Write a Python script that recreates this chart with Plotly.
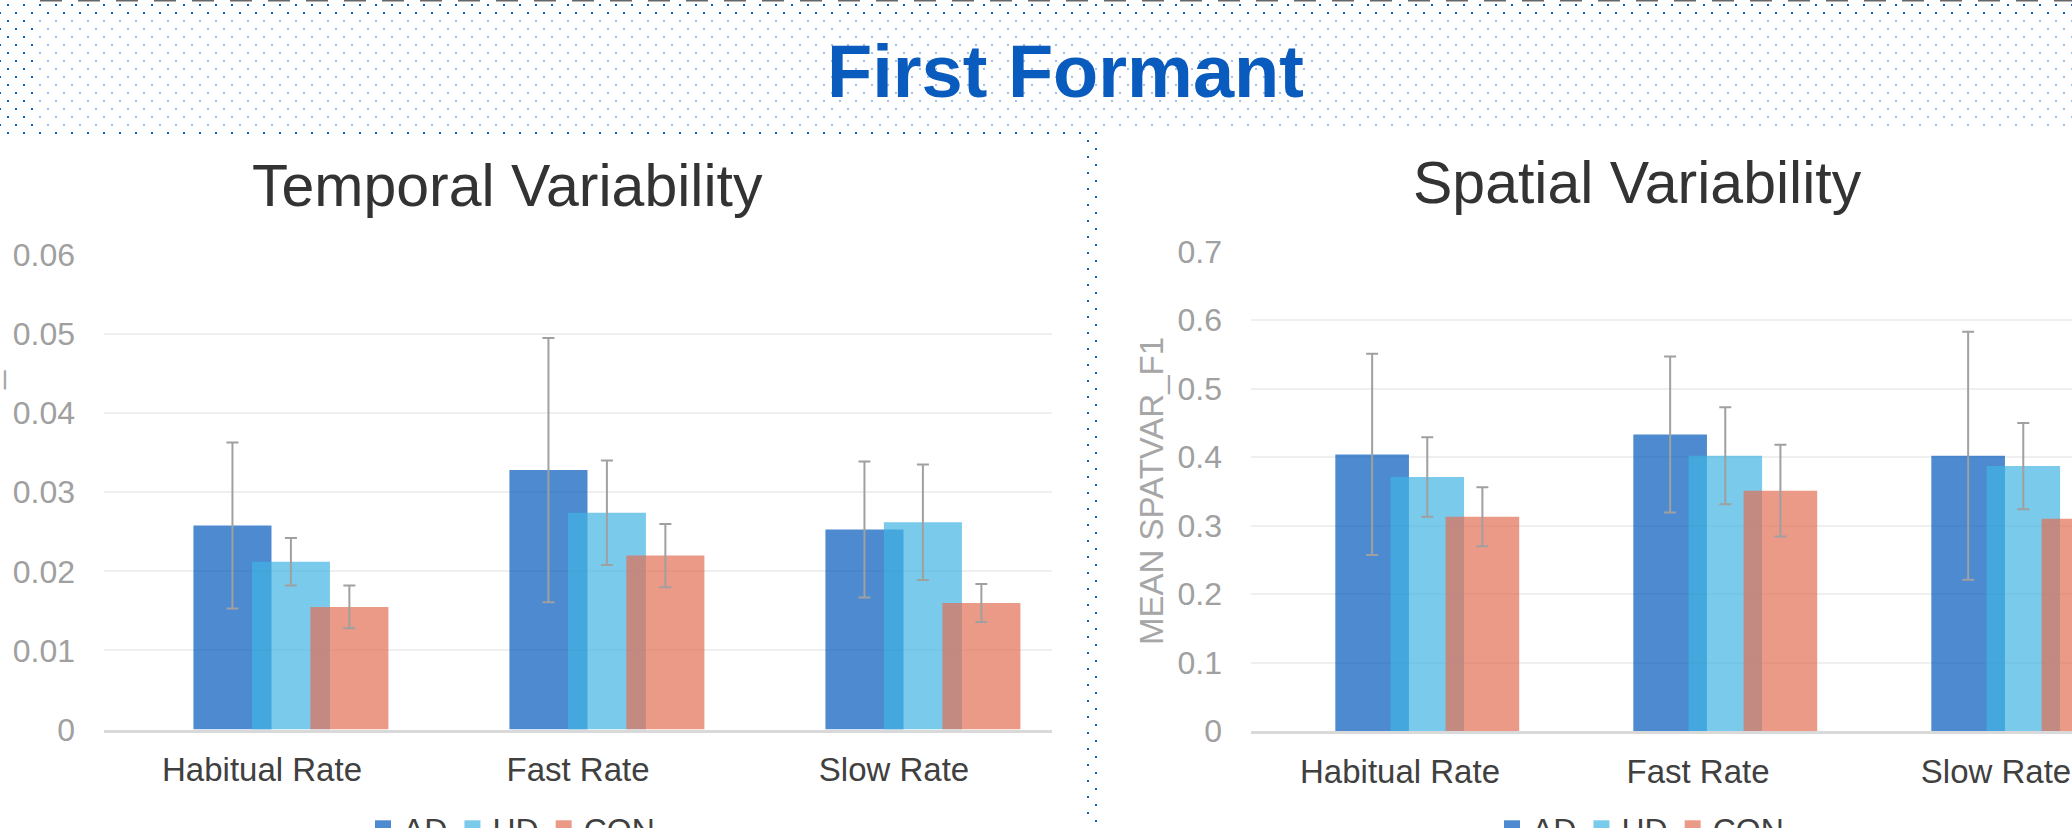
import numpy as np
import plotly.graph_objects as go

W, H = 2072, 828

# ---------------- data ----------------
categories = ["Habitual Rate", "Fast Rate", "Slow Rate"]
groups = ["AD", "HD", "CON"]

temporal_AD = [0.0258, 0.0328, 0.0253]
temporal_AD_err = [0.0105, 0.0167, 0.0086]
temporal_HD = [0.0212, 0.0274, 0.0262]
temporal_HD_err = [0.0030, 0.0066, 0.0073]
temporal_CON = [0.0155, 0.0220, 0.0160]
temporal_CON_err = [0.0027, 0.0040, 0.0024]

spatial_AD = [0.404, 0.433, 0.402]
spatial_AD_err = [0.147, 0.114, 0.181]
spatial_HD = [0.371, 0.402, 0.387]
spatial_HD_err = [0.058, 0.071, 0.063]
spatial_CON = [0.313, 0.351, 0.310]
spatial_CON_err = [0.043, 0.067, 0.045]

temporal_ticks = [0, 0.01, 0.02, 0.03, 0.04, 0.05, 0.06]
temporal_ticklabels = ["0", "0.01", "0.02", "0.03", "0.04", "0.05", "0.06"]
spatial_ticks = [0, 0.1, 0.2, 0.3, 0.4, 0.5, 0.6, 0.7]
spatial_ticklabels = ["0", "0.1", "0.2", "0.3", "0.4", "0.5", "0.6", "0.7"]

# ---------------- style ----------------
FONT = "Liberation Sans, Arial, sans-serif"
colors = {"AD": "rgba(2,89,186,0.70)", "HD": "rgba(64,180,226,0.70)", "CON": "rgba(226,111,85,0.70)"}
offsets = {"AD": -0.217, "HD": -0.032, "CON": 0.153}
BAR_W = 0.247
ERR_COLOR = "#A0A0A0"

def px_x(p):
    return p / W

def px_y(p):
    return 1 - p / H

fig = go.Figure()

temporal = {"AD": (temporal_AD, temporal_AD_err), "HD": (temporal_HD, temporal_HD_err),
            "CON": (temporal_CON, temporal_CON_err)}
spatial = {"AD": (spatial_AD, spatial_AD_err), "HD": (spatial_HD, spatial_HD_err),
           "CON": (spatial_CON, spatial_CON_err)}

panels = [(temporal, "x", "y", "legend"), (spatial, "x2", "y2", "legend2")]
for data, xa, ya, lg in panels:
    for g in groups:
        vals, errs = data[g]
        fig.add_trace(go.Bar(
            x=categories, y=vals, name=g, width=BAR_W, offset=offsets[g],
            marker=dict(color=colors[g], line=dict(width=0)),
            error_y=dict(type="data", array=errs, visible=True, color=ERR_COLOR, thickness=2, width=6),
            xaxis=xa, yaxis=ya, showlegend=False, hoverinfo="skip",
        ))
    # legend entries with larger square swatches
    for g in groups:
        fig.add_trace(go.Scatter(
            x=[None], y=[None], mode="markers", name=g,
            marker=dict(symbol="square", size=16, color=colors[g], line=dict(width=0)),
            xaxis=xa, yaxis=ya, legend=lg, showlegend=True, hoverinfo="skip",
        ))

# ---------------- decorative dotted banner ----------------
lx, ly, dx, dy = [], [], [], []
for j in range(0, 200):
    yy = 5 + 8 * j
    if yy > H + 4:
        break
    x0 = 8 if j % 2 == 0 else 0
    if j <= 16:
        for xx in range(x0, W + 8, 16):
            if j == 16:
                if xx <= 1096:
                    dx.append(xx); dy.append(yy)
            elif j <= 1 or xx < 36:
                dx.append(xx); dy.append(yy)
            else:
                lx.append(xx); ly.append(yy)
    else:
        dx.append(1096 if j % 2 == 0 else 1088); dy.append(yy)

fig.add_trace(go.Scatter(x=lx, y=ly, mode="markers", xaxis="x3", yaxis="y3", showlegend=False,
                         hoverinfo="skip",
                         marker=dict(symbol="square", size=2, color="#A3C1E8", line=dict(width=0))))
fig.add_trace(go.Scatter(x=dx, y=dy, mode="markers", xaxis="x3", yaxis="y3", showlegend=False,
                         hoverinfo="skip",
                         marker=dict(symbol="square", size=2, color="#0A5BBE", line=dict(width=0))))

# ---------------- layout ----------------
tickfont_y = dict(family=FONT, size=32, color="#A0A0A0")
tickfont_x = dict(family=FONT, size=33, color="#404040")

fig.update_layout(
    width=W, height=H,
    margin=dict(l=0, r=0, t=0, b=0, pad=0, autoexpand=False),
    paper_bgcolor="white", plot_bgcolor="rgba(0,0,0,0)",
    barmode="overlay",
    font=dict(family=FONT),
    xaxis=dict(domain=[px_x(104), px_x(1052)], anchor="y", range=[-0.5, 2.5],
               showline=True, linecolor="#D9D9D9", linewidth=3, showgrid=False,
               ticks="", tickfont=tickfont_x, ticklabelstandoff=9, fixedrange=True),
    yaxis=dict(domain=[px_y(729.5), px_y(255)], anchor="x", range=[0, 0.06],
               tickvals=temporal_ticks, ticktext=temporal_ticklabels,
               showgrid=True, gridcolor="#EFEFEF", gridwidth=1.5, zeroline=False, showline=False,
               ticks="", tickfont=tickfont_y, ticklabelstandoff=28, fixedrange=True),
    xaxis2=dict(domain=[px_x(1251), 1.0], anchor="y2", range=[-0.5, 2.255],
                showline=True, linecolor="#D9D9D9", linewidth=3, showgrid=False,
                ticks="", tickfont=tickfont_x, ticklabelstandoff=9, fixedrange=True),
    yaxis2=dict(domain=[px_y(731), px_y(251.7)], anchor="x2", range=[0, 0.7],
                tickvals=spatial_ticks, ticktext=spatial_ticklabels,
                showgrid=True, gridcolor="#EFEFEF", gridwidth=1.5, zeroline=False, showline=False,
                ticks="", tickfont=tickfont_y, ticklabelstandoff=28, fixedrange=True),
    xaxis3=dict(domain=[0, 1], anchor="y3", range=[0, W], visible=False, fixedrange=True),
    yaxis3=dict(domain=[0, 1], anchor="x3", range=[H, 0], visible=False, fixedrange=True),
    legend=dict(orientation="h", x=px_x(363), xanchor="left", y=px_y(801), yanchor="top",
                font=dict(family=FONT, size=32, color="#404040"), bgcolor="rgba(0,0,0,0)",
                itemwidth=30, traceorder="normal"),
    legend2=dict(orientation="h", x=px_x(1492), xanchor="left", y=px_y(801), yanchor="top",
                 font=dict(family=FONT, size=32, color="#404040"), bgcolor="rgba(0,0,0,0)",
                 itemwidth=30, traceorder="normal"),
    showlegend=True,
)

fig.add_shape(type="line", xref="paper", yref="paper", x0=px_x(40), x1=1.0,
              y0=px_y(0.5), y1=px_y(0.5), line=dict(color="#666666", width=2, dash="22px,16px"))

annotations = [
    dict(text="<b>First Formant</b>", x=px_x(1065), y=px_y(72), xanchor="center", yanchor="middle",
         font=dict(family=FONT, size=74, color="#0A5BBE")),
    dict(text="Temporal Variability", x=px_x(507), y=px_y(186), xanchor="center", yanchor="middle",
         font=dict(family=FONT, size=59, color="#333333")),
    dict(text="Spatial Variability", x=px_x(1637), y=px_y(183), xanchor="center", yanchor="middle",
         font=dict(family=FONT, size=59, color="#333333")),
    dict(text="MEAN SPATVAR_F1", x=px_x(1151), y=px_y(491), textangle=-90,
         xanchor="center", yanchor="middle",
         font=dict(family=FONT, size=33, color="#A6A6A6")),
    dict(text="MEAN TEMPVAR_F1", x=px_x(-13), y=px_y(491), textangle=-90,
         xanchor="center", yanchor="middle",
         font=dict(family=FONT, size=33, color="#A6A6A6")),
]
for a in annotations:
    a.update(xref="paper", yref="paper", showarrow=False)
fig.update_layout(annotations=annotations)

fig.write_html("out.html", config={"displayModeBar": False},
               post_script="document.body.style.margin='0';document.body.style.padding='0';"
                           "document.body.style.overflow='hidden';")
